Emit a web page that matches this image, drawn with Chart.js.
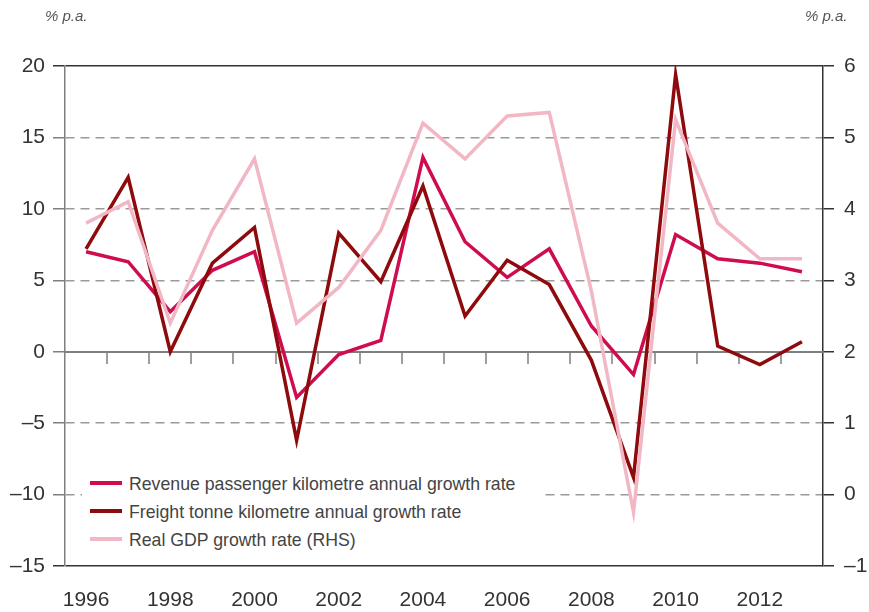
<!DOCTYPE html>
<html>
<head>
<meta charset="utf-8">
<script src="https://cdn.jsdelivr.net/npm/chart.js@4.4.1/dist/chart.umd.min.js"></script>
<style>
  body { margin: 0; background: #fff; }
  #wrap { position: relative; width: 869px; height: 612px; }
  .unit { position: absolute; top: 7px; font: italic 15px "Liberation Sans", Arial, sans-serif; color: #555; }
  #legend { position: absolute; left: 82px; top: 468px; width: 455px; padding: 2px 0 4px 8px; background: #fff;
            font: 17.7px "Liberation Sans", Arial, sans-serif; color: #444; }
  #legend div { height: 28px; line-height: 28px; white-space: nowrap; }
  #legend span { display: inline-block; width: 32px; height: 4px; vertical-align: middle; margin-right: 7px; position: relative; top: -2px; }
</style>
</head>
<body>
<div id="wrap">
  <canvas id="chart" width="869" height="612"></canvas>
  <div class="unit" style="left:45px">% p.a.</div>
  <div class="unit" style="left:805px">% p.a.</div>
  <div id="legend"></div>
</div>
<script>
// data
const years = ['1996', '1997', '1998', '1999', '2000', '2001', '2002', '2003', '2004',
               '2005', '2006', '2007', '2008', '2009', '2010', '2011', '2012', '2013'];
const passengerGrowth = [7.0, 6.3, 2.8, 5.7, 7.0, -3.2, -0.2, 0.8, 13.6, 7.7, 5.2, 7.2, 1.8, -1.6, 8.2, 6.5, 6.2, 5.6];
const freightGrowth = [7.2, 12.2, 0.0, 6.2, 8.7, -6.2, 8.3, 4.9, 11.6, 2.5, 6.4, 4.7, -0.6, -8.8, 19.4, 0.4, -0.9, 0.7];
const gdpGrowth = [3.8, 4.1, 2.4, 3.7, 4.7, 2.4, 2.9, 3.7, 5.2, 4.7, 5.3, 5.35, 2.85, -0.25, 5.25, 3.8, 3.3, 3.3];
const seriesNames = ['Revenue passenger kilometre annual growth rate',
                     'Freight tonne kilometre annual growth rate',
                     'Real GDP growth rate (RHS)'];
const seriesColors = ['#cf0c4e', '#8e0a0c', '#f2b7c5'];

const tickFont = { family: '"Liberation Sans Narrow", "Liberation Sans", sans-serif', size: 21 };
const dash = (s) => s.replace('-', '\u2013');

// zero line with the little year ticks hanging below it
const zeroLine = {
    id: 'zeroLine',
    beforeDatasetsDraw(chart) {
        const { ctx, chartArea, scales } = chart;
        const x = scales.x;
        const y0 = Math.round(scales.y.getPixelForValue(0));
        const step = x.getPixelForValue(1) - x.getPixelForValue(0);
        ctx.save();
        ctx.strokeStyle = '#7f7f7f';
        ctx.lineWidth = 2;
        ctx.beginPath();
        ctx.moveTo(chartArea.left, y0);
        ctx.lineTo(chartArea.right, y0);
        ctx.stroke();
        ctx.lineWidth = 1.5;
        ctx.beginPath();
        for (let i = 1; i < years.length; i++) {
            const px = Math.round(x.getPixelForValue(i) - step / 2);
            ctx.moveTo(px, y0);
            ctx.lineTo(px, y0 + 12);
        }
        ctx.stroke();
        ctx.restore();
    }
};

const data = {
    labels: years,
    datasets: [
        { label: seriesNames[0], data: passengerGrowth, borderColor: seriesColors[0], yAxisID: 'y', order: 2 },
        { label: seriesNames[1], data: freightGrowth, borderColor: seriesColors[1], yAxisID: 'y', order: 1 },
        { label: seriesNames[2], data: gdpGrowth, borderColor: seriesColors[2], yAxisID: 'y1', order: 0 }
    ]
};

const config = {
    type: 'line',
    data: data,
    options: {
        responsive: false,
        animation: false,
        layout: { padding: { top: 66, left: 0, right: 0, bottom: 0 } },
        elements: {
            line: { borderWidth: 3.5, tension: 0, borderJoinStyle: 'miter' },
            point: { radius: 0 }
        },
        plugins: { legend: { display: false }, tooltip: { enabled: false } },
        scales: {
            x: {
                offset: true,
                grid: { display: false, drawTicks: false },
                border: { display: false },
                ticks: {
                    autoSkip: false, maxRotation: 0, padding: 22, color: '#333', font: tickFont,
                    callback: (v, i) => (i % 2 === 0 ? years[i] : '')
                },
                afterFit: (s) => { s.height = 46; }
            },
            y: {
                position: 'left',
                min: -15, max: 20,
                ticks: { stepSize: 5, padding: 8, color: '#333', font: tickFont, callback: (v) => dash(String(v)) },
                grid: {
                    tickLength: 12,
                    lineWidth: 1.5,
                    color: (c) => {
                        const v = c.tick ? c.tick.value : null;
                        if (v === 20 || v === -15) return '#333';
                        if (v === 0) return 'rgba(0,0,0,0)';
                        return '#9a9a9a';
                    },
                    tickColor: (c) => (c.tick && (c.tick.value === 20 || c.tick.value === -15) ? '#333' : '#7f7f7f')
                },
                border: {
                    color: '#7f7f7f', width: 1.5,
                    dash: (c) => {
                        const v = c.tick ? c.tick.value : null;
                        return (v === null || v === 20 || v === -15 || v === 0) ? [] : [9, 6];
                    }
                },
                afterFit: (s) => { s.width = 65; }
            },
            y1: {
                position: 'right',
                min: -1, max: 6,
                ticks: { stepSize: 1, padding: 10, color: '#333', font: tickFont, callback: (v) => dash(String(v)) },
                grid: { drawOnChartArea: false, tickLength: 11, lineWidth: 1.5, color: '#333' },
                border: { color: '#333', width: 1.5 },
                afterFit: (s) => { s.width = 46; }
            }
        }
    },
    plugins: [zeroLine]
};

let chart = new Chart(document.getElementById('chart'), config);

// legend as html over the plot
const legend = document.getElementById('legend');
seriesNames.forEach((name, i) => {
    const row = document.createElement('div');
    row.innerHTML = '<span style="background:' + seriesColors[i] + '"></span>' + name;
    legend.appendChild(row);
});
</script>
</body>
</html>
